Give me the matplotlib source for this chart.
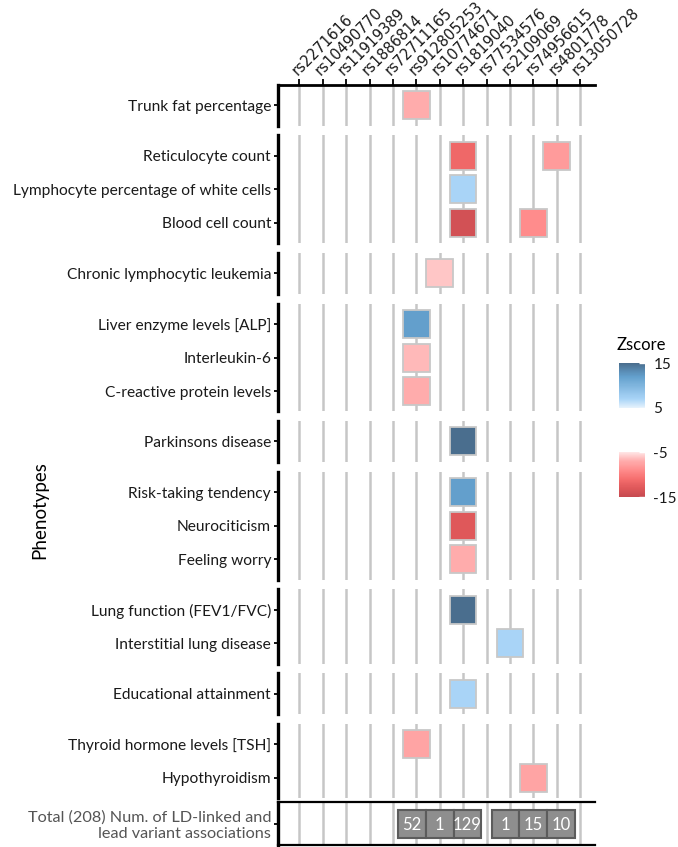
import matplotlib
matplotlib.use('Agg')
import matplotlib.pyplot as plt
from matplotlib.patches import Rectangle
from matplotlib.colors import LinearSegmentedColormap, Normalize
from matplotlib.cm import ScalarMappable

plt.rcParams['font.family'] = ['Lato', 'DejaVu Sans']
plt.rcParams['axes.unicode_minus'] = False

# ---------------- data ----------------
snps = ['rs2271616', 'rs10490770', 'rs11919389', 'rs1886814', 'rs72711165',
        'rs912805253', 'rs10774671', 'rs1819040', 'rs77534576', 'rs2109069',
        'rs74956615', 'rs4801778', 'rs13050728']

groups = [
    ['Trunk fat percentage'],
    ['Reticulocyte count', 'Lymphocyte percentage of white cells', 'Blood cell count'],
    ['Chronic lymphocytic leukemia'],
    ['Liver enzyme levels [ALP]', 'Interleukin-6', 'C-reactive protein levels'],
    ['Parkinsons disease'],
    ['Risk-taking tendency', 'Neurociticism', 'Feeling worry'],
    ['Lung function (FEV1/FVC)', 'Interstitial lung disease'],
    ['Educational attainment'],
    ['Thyroid hormone levels [TSH]', 'Hypothyroidism'],
]

assoc_pheno = ['Trunk fat percentage', 'Reticulocyte count', 'Reticulocyte count',
               'Lymphocyte percentage of white cells', 'Blood cell count', 'Blood cell count',
               'Chronic lymphocytic leukemia', 'Liver enzyme levels [ALP]', 'Interleukin-6',
               'C-reactive protein levels', 'Parkinsons disease', 'Risk-taking tendency',
               'Neurociticism', 'Feeling worry', 'Lung function (FEV1/FVC)',
               'Interstitial lung disease', 'Educational attainment',
               'Thyroid hormone levels [TSH]', 'Hypothyroidism']
assoc_snp = ['rs912805253', 'rs1819040', 'rs4801778',
             'rs1819040', 'rs1819040', 'rs74956615',
             'rs10774671', 'rs912805253', 'rs912805253',
             'rs912805253', 'rs1819040', 'rs1819040',
             'rs1819040', 'rs1819040', 'rs1819040',
             'rs2109069', 'rs1819040',
             'rs912805253', 'rs74956615']
assoc_z = [-7, -11.5, -8,
           7, -14, -9,
           -6, 12, -6.5,
           -7, 15, 12,
           -13, -7, 15,
           7, 7,
           -7.5, -7.5]

total_snp = ['rs912805253', 'rs10774671', 'rs1819040', 'rs2109069', 'rs74956615', 'rs4801778']
total_n = [52, 1, 129, 1, 15, 10]
total_label = 'Total (208) Num. of LD-linked and\nlead variant associations'

cbar_ticks = [15, 5, -5, -15]

# ---------------- style ----------------
cmap_nodes = [(-15, '#c64a50'), (-13, '#df585a'), (-11, '#f56e6e'), (-9, '#ff8c8c'),
              (-7, '#ffacac'), (-5, '#ffe4e4'), (-4.99, '#ffffff'), (4.99, '#ffffff'),
              (5, '#e4f1fc'), (7, '#a9d4f7'), (12, '#63a0cd'), (15, '#4a6e8e')]
zmin, zmax = -15, 15
cmap = LinearSegmentedColormap.from_list(
    'z', [((v - zmin) / (zmax - zmin), c) for v, c in cmap_nodes])
norm = Normalize(zmin, zmax)

W, H = 678, 847
fig = plt.figure(figsize=(W / 100, H / 100), dpi=100)


def px(x0, y0, x1, y1):
    return [x0 / W, 1 - y1 / H, (x1 - x0) / W, (y1 - y0) / H]


col0, colstep, axl, axr = 299.3, 23.4, 278, 595
xlim = (1 - (col0 - axl) / colstep, 1 + (axr - col0) / colstep)
ROW, PAD, GAP = 33.5, 20.5, 9.5
SQW, SQH = 26.5 / colstep, 28 / ROW
FS = 11.2
GRID = '#c6c6c6'


def base(ax, ncols):
    ax.set_xlim(*xlim)
    for c in range(1, ncols + 1):
        ax.axvline(c, color=GRID, lw=1.8, zorder=1)
    for s in ['right', 'bottom', 'top']:
        ax.spines[s].set_visible(False)
    ax.spines['left'].set_linewidth(2.4)
    ax.tick_params(axis='y', length=3, width=1.3, pad=2, labelsize=FS, colors='black')
    ax.set_xticks([])
    ax.patch.set_alpha(0)


top = 85
for gi, grp in enumerate(groups):
    n = len(grp)
    h = 2 * PAD + (n - 1) * ROW
    ax = fig.add_axes(px(axl, top, axr, top + h))
    base(ax, len(snps))
    ax.set_ylim(n - 1 + PAD / ROW, -PAD / ROW)
    ax.set_yticks(range(n))
    ax.set_yticklabels(grp, color='#1a1a1a')
    for p, s, z in zip(assoc_pheno, assoc_snp, assoc_z):
        if p in grp:
            r = grp.index(p)
            c = snps.index(s) + 1
            ax.add_patch(Rectangle((c - SQW / 2, r - SQH / 2), SQW, SQH,
                                   facecolor=cmap(norm(z)), edgecolor='#c8c8c8',
                                   lw=1.3, zorder=3))
    if gi == 0:
        ax.spines['top'].set_visible(True)
        ax.spines['top'].set_linewidth(2.0)
        ax.xaxis.tick_top()
        ax.set_xticks(range(1, len(snps) + 1))
        ax.set_xticklabels(snps, rotation=45, ha='left', va='bottom',
                           rotation_mode='anchor', fontsize=10.5, color='#1a1a1a',
                           family=['DejaVu Sans'])
        ax.tick_params(axis='x', length=4, width=1.3, pad=1)
    top += h + GAP

# totals panel
axT = fig.add_axes(px(axl, 802, axr, 845))
base(axT, len(snps))
axT.spines['top'].set_visible(True)
axT.spines['bottom'].set_visible(True)
axT.spines['top'].set_linewidth(1.6)
axT.spines['bottom'].set_linewidth(1.6)
axT.set_ylim(1, 0)
axT.set_yticks([0.5])
axT.set_yticklabels([total_label], color='#555555', fontsize=11.7, linespacing=1.15)

cols = [snps.index(s) + 1 for s in total_snp]
# contiguous runs
runs, cur = [], [0]
for i in range(1, len(cols)):
    if cols[i] == cols[i - 1] + 1:
        cur.append(i)
    else:
        runs.append(cur)
        cur = [i]
runs.append(cur)
BW = 27.7 / colstep
for run in runs:
    cen = sum(cols[i] for i in run) / len(run)
    for i in run:
        x = cen + (cols[i] - cen) * BW
        axT.add_patch(Rectangle((x - BW / 2, 0.19), BW, 0.65, facecolor='#8e8e8e',
                                edgecolor='#5c5c5c', lw=1.5, zorder=3))
        axT.text(x, 0.53, str(total_n[i]), color='white', fontsize=12,
                 ha='center', va='center', zorder=4)

# colorbar
cax = fig.add_axes(px(619, 363, 645, 497))
cb = fig.colorbar(ScalarMappable(norm=norm, cmap=cmap), cax=cax, ticks=cbar_ticks)
cb.outline.set_visible(False)
cax.tick_params(color='white', direction='in', length=4.5, width=1, labelsize=11,
                labelcolor='#1a1a1a', pad=6)
fig.text(617 / W, 1 - 345 / H, 'Zscore', fontsize=12, ha='left', va='center')

fig.text(40 / W, 1 - 510 / H, 'Phenotypes', rotation=90, fontsize=13.5,
         ha='center', va='center')

fig.savefig('out.png', dpi=100)
